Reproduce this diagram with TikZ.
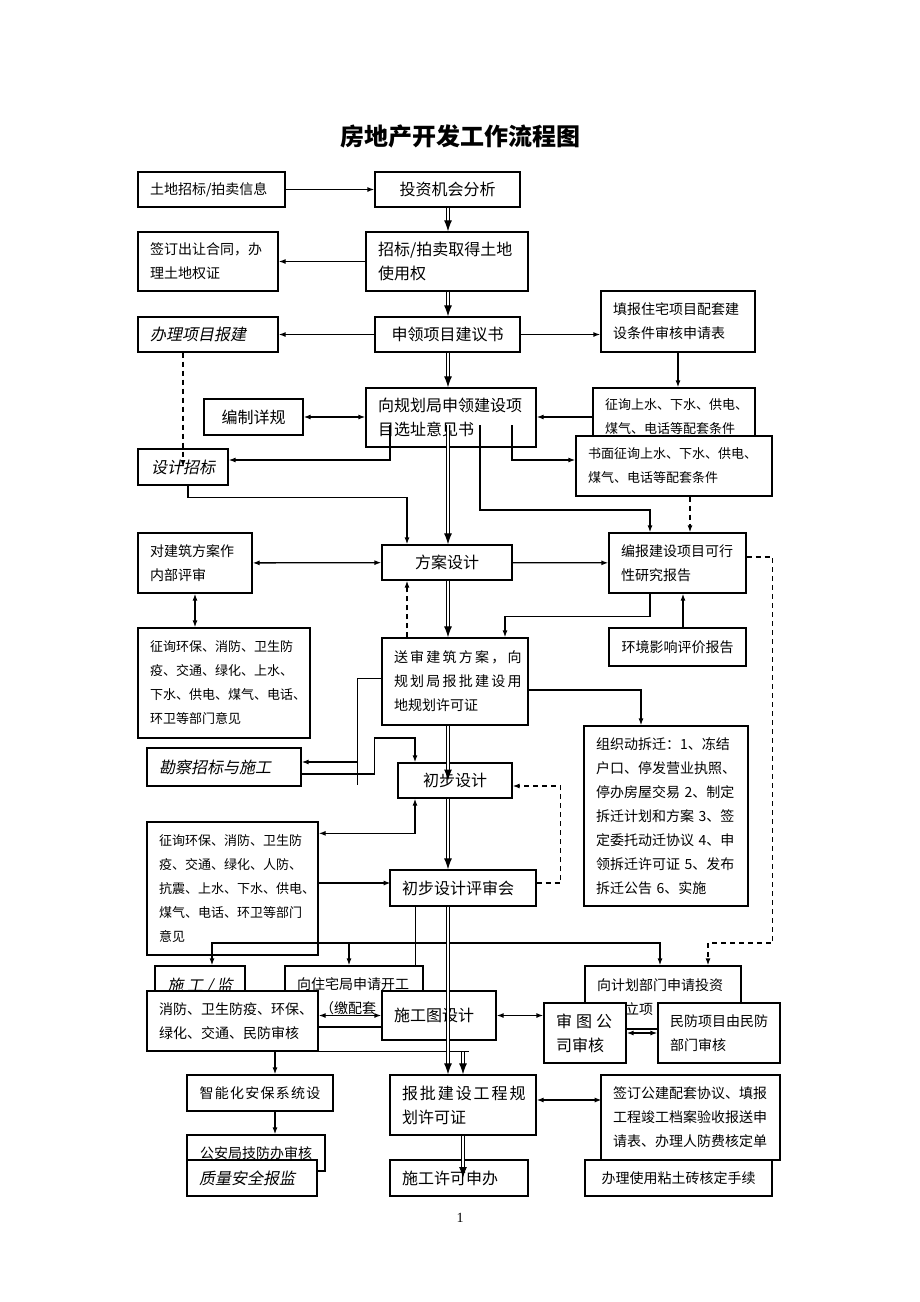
\documentclass[tikz,border=0pt]{standalone}
\usepackage{fontspec}
\setmainfont{Noto Sans CJK SC}
\newfontfamily\cjkit[FakeSlant=0.2]{Noto Sans CJK SC}
\newfontfamily\numfont{Liberation Serif}
\usetikzlibrary{arrows.meta}
\newcommand\ftxt{\fontsize{14pt}{24pt}\selectfont}
\newcommand\ftsml{\fontsize{13pt}{24pt}\selectfont}
\newcommand\ftbig{\fontsize{16pt}{24pt}\selectfont}
\newcommand\lsp[2]{{\addfontfeatures{LetterSpace=#1}#2}}

\begin{document}
\begin{tikzpicture}[
  x=1pt, y=-1pt,
  box/.style={draw, fill=white, line width=1.3pt, inner xsep=12pt, inner ysep=0pt, align=left, font=\ftxt},
  big/.style={font=\ftbig},
  itl/.style={font=\cjkit\ftbig},
  arr/.style={-{Latex[length=7pt,width=5pt]}, line width=1.3pt},
  arr2/.style={{Latex[length=7pt,width=5pt]}-{Latex[length=7pt,width=5pt]}, line width=1.3pt},
  dsh/.style={dash pattern=on 5pt off 4pt, line width=1.3pt, -{Latex[length=7pt,width=5pt]}},
  dbl/.style={double, double distance=2pt, line width=1.1pt, -{Latex[length=11pt,width=8pt]}}
]
\fill[white] (0,0) rectangle (920,1302);
\node[font=\bfseries\fontsize{24pt}{28pt}\selectfont] (title) at (460,136) {房地产开发工作流程图};

\node[box, text width=123pt, minimum height=35] (tdxx) at (211.5,189.5) {土地招标/拍卖信息};
\node[box, big, align=center, minimum width=145, minimum height=35] (tzfx) at (447.5,189.5) {投资机会分析};
\node[box, big, text width=138pt, minimum height=59] (qdtd) at (447,261.5) {招标/拍卖取得土地\\使用权};
\node[box, text width=116pt, minimum height=59] (crht) at (208,261.5) {签订出让合同，办\\理土地权证};
\node[box, big, align=center, minimum width=145, minimum height=35] (jys) at (447.5,334.5) {申领项目建议书};
\node[box, itl, text width=116pt, minimum height=35] (xmbj) at (208,334.5) {办理项目报建};
\node[box, text width=130pt, minimum height=61] (ptsq) at (678,321.5) {填报住宅项目配套建\\设条件审核申请表};
\node[box, big, text width=146pt, minimum height=59] (xzyj) at (451,417.5) {向规划局申领建设项\\目选址意见书};
\node[box, big, align=center, minimum width=99, minimum height=36] (xgbz) at (253.5,417) {编制详规};
\node[box, font=\ftsml, text width=138pt, minimum height=58] (zxpt) at (674,417) {征询上水、下水、供电、\\煤气、电话等配套条件};
\node[box, font=\ftsml, text width=172pt, minimum height=60] (smzx) at (674,466) {书面征询上水、下水、供电、\\煤气、电话等配套条件};
\node[box, itl, align=center, minimum width=90, minimum height=36] (sjzb) at (183,467) {设计招标};
\node[box, big, align=center, minimum width=130, minimum height=35] (fasj) at (447,562.5) {方案设计};
\node[box, text width=90pt, minimum height=60] (nbps) at (195,563) {对建筑方案作\\内部评审};
\node[box, text width=113pt, minimum height=60] (kxbg) at (677.5,563) {编报建设项目可行\\性研究报告};
\node[box, font=\ftsml, text width=148pt, minimum height=110] (zxbm) at (224,683) {征询环保、消防、卫生防\\疫、交通、绿化、上水、\\下水、供电、煤气、电话、\\环卫等部门意见};
\node[box, align=center, minimum width=137, minimum height=38] (hypj) at (677.5,647) {环境影响评价报告};
\node[box, text width=122pt, minimum height=87] (ydxk) at (455,681.5) {\lsp{16}{送审建筑方案，向}\\\lsp{16}{规划局报批建设用}\\地规划许可证};
\node[box, text width=140pt, minimum height=180] (dcq) at (666,816) {组织动拆迁：1、冻结\\户口、停发营业执照、\\停办房屋交易~2、制定\\拆迁计划和方案~3、签\\定委托动迁协议~4、申\\领拆迁许可证~5、发布\\拆迁公告~6、实施};
\node[box, itl, text width=130pt, minimum height=38] (kczb) at (224,767) {勘察招标与施工};
\node[box, big, align=center, minimum width=114, minimum height=35] (cbsj) at (455,780.5) {初步设计};
\node[box, font=\ftsml, text width=147pt, minimum height=133] (zxbm2) at (232.5,888.5) {征询环保、消防、卫生防\\疫、交通、绿化、人防、\\抗震、上水、下水、供电、\\煤气、电话、环卫等部门\\意见};
\node[box, big, text width=122pt, minimum height=36] (cbps) at (463,888) {初步设计评审会};
\node[box, itl, align=center, minimum width=90, minimum height=61] (sgjl) at (200,996.5) {施 工 / 监\\\mbox{}};
\node[box, text width=114pt, minimum height=61] (kgz) at (354,996.5) {向住宅局申请开工\\\hspace*{23pt}（缴配套};
\node[box, text width=132pt, minimum height=63] (lxsq) at (663,997.5) {向计划部门申请投资\\\hspace*{28pt}立项};
\node[box, text width=147pt, minimum height=60] (xfsh) at (232.5,1021) {消防、卫生防疫、环保、\\绿化、交通、民防审核};
\node[box, big, text width=90pt, minimum height=49] (sgt) at (439,1015.5) {施工图设计};
\node[box, big, text width=58pt, minimum height=60] (stsh) at (585,1033) {审\hspace{4pt}图\hspace{4pt}公\\司审核};
\node[box, text width=98pt, minimum height=60] (mfsh) at (719,1033) {民防项目由民防\\部门审核};
\node[box, align=center, minimum width=146, minimum height=36] (afxt) at (260,1093) {\lsp{9}{智能化安保系统设}};
\node[box, align=center, minimum width=138, minimum height=36] (jfsh) at (256,1153) {公安局技防办审核};
\node[box, itl, text width=106pt, minimum height=36] (zlbj) at (252,1178) {质量安全报监};
\node[box, big, text width=122pt, minimum height=60] (ghxk) at (463,1105) {\lsp{12}{报批建设工程规}\\划许可证};
\node[box, text width=155pt, minimum height=85] (ptxy) at (690.5,1117.5) {签订公建配套协议、填报\\工程竣工档案验收报送申\\请表、办理人防费核定单};
\node[box, big, text width=114pt, minimum height=36] (sgxk) at (459,1178) {施工许可申办};
\node[box, align=center, minimum width=187, minimum height=36] (ztz) at (678.5,1178) {办理使用粘土砖核定手续};
\node[font=\numfont\ftxt] (pg) at (460,1218) {1};

\coordinate (cx) at (448,0);
\coordinate (xa) at (390,425);
\coordinate (xb) at (448,425);
\coordinate (xc) at (480,425);
\coordinate (xd) at (512,425);
\coordinate (kz) at (358,762);
\coordinate (fb) at (415,943);

\draw[arr] (tdxx) -- (tzfx);
\draw[dbl] (tzfx.south -| cx) -- (qdtd.north -| cx);
\draw[arr] (qdtd) -- (crht);
\draw[dbl] (qdtd.south -| cx) -- (jys.north -| cx);
\draw[arr] (jys) -- (xmbj);
\draw[arr] (jys.east) -- (jys.east -| ptsq.west);
\draw[dbl] (jys.south -| cx) -- (xzyj.north -| cx);
\draw[arr] (ptsq.south) -- (ptsq.south |- zxpt.north);
\draw[arr] (zxpt.west) -- (zxpt.west -| xzyj.east);
\draw[arr2] (xgbz.east) -- (xgbz.east -| xzyj.west);
\draw[dsh] (xmbj.south -| sjzb) -- (sjzb.center);
\draw[arr] (xa) |- ([yshift=7pt]sjzb.east);
\draw[arr] (xd) |- ([yshift=6pt]smzx.west);
\draw[arr] (xc) -- ++(0,85) -| ([xshift=-27.5pt]kxbg.north);
\draw[dsh] ([xshift=16pt]smzx.south) -- ([xshift=16pt]smzx.south |- kxbg.north);
\draw[arr] ([xshift=5pt]sjzb.south) -- ++(0,12) -| ([xshift=-40pt]fasj.north);
\draw[dbl] (xb) -- (fasj.north -| cx);
\draw[arr2] (nbps) -- (fasj);
\draw[arr] (fasj) -- (kxbg);
\draw[arr2] (nbps.south) -- (nbps.south |- zxbm.north);
\draw[arr] ([xshift=-27.5pt]kxbg.south) -- ++(0,23) -| ([xshift=50pt]ydxk.north);
\draw[arr] ([xshift=5.5pt]hypj.north) -- ([xshift=5.5pt]hypj.north |- kxbg.south);
\draw[dsh] ([xshift=-48pt]ydxk.north) -- ([xshift=-48pt]ydxk.north |- fasj.south);
\draw[dbl] (fasj.south -| cx) -- (ydxk.north -| cx);
\draw[dsh] ([yshift=6pt]kxbg.east) -- ++(26,0) -- ++(0,386) -| ([xshift=45pt]lxsq.north);
\draw[arr] ([yshift=-8.5pt]ydxk.east) -| ([xshift=-25pt]dcq.north);
\draw ([yshift=3.5pt]ydxk.west) -| ++(-24,107);
\draw[arr] (kz) -- (kz -| kczb.east);
\draw[arr] ([yshift=-7pt]kczb.east) -- ++(73,0) -- ++(0,-36) -| ([xshift=-40pt]cbsj.north);
\draw[dbl] (ydxk.south -| cx) -- (cbsj.center -| cx);
\draw[dsh] ([yshift=5pt]cbps.east) -- ++(24,0) |- ([yshift=-5.5pt]cbsj.east);
\draw[arr2] ([xshift=-40pt]cbsj.south) |- ([yshift=-12pt]zxbm2.north east);
\draw[arr] (zxbm2.east |- cbps.west) ++(0,-5) -- ++(72,0);
\draw[dbl] (cbsj.south -| cx) -- (cbps.north -| cx);
\draw (fb |- cbps.south) -- (fb |- kgz.north);
\draw[arr] (fb) -| ([xshift=12pt]sgjl.north);
\draw[arr] (fb) -| ([xshift=-5pt]kgz.north);
\draw[arr] (fb) -| ([xshift=-3pt]lxsq.north);
\draw[arr2] (sgt.west -| xfsh.east) -- (sgt.west);
\draw[arr2] (sgt.east) -- (sgt.east -| stsh.west);
\draw[arr2] (stsh) -- (mfsh);
\draw (xfsh.south east) -- ++(150,0) coordinate (xfe);
\draw[dbl] (cbps.south -| cx) -- (ghxk.north -| cx);
\draw[dbl] (ghxk.north |- xfe) -- (ghxk.north);
\draw[arr] ([xshift=42.5pt]xfsh.south) -- ([xshift=42.5pt]xfsh.south |- afxt.north);
\draw[arr] ([xshift=15pt]afxt.south) -- ([xshift=15pt]afxt.south |- jfsh.north);
\draw[arr2] ([yshift=5pt]ghxk.east) -- ++(65,0);
\draw[dbl] (ghxk.south) -- (ghxk.south |- sgxk.center);
\end{tikzpicture}
\end{document}
